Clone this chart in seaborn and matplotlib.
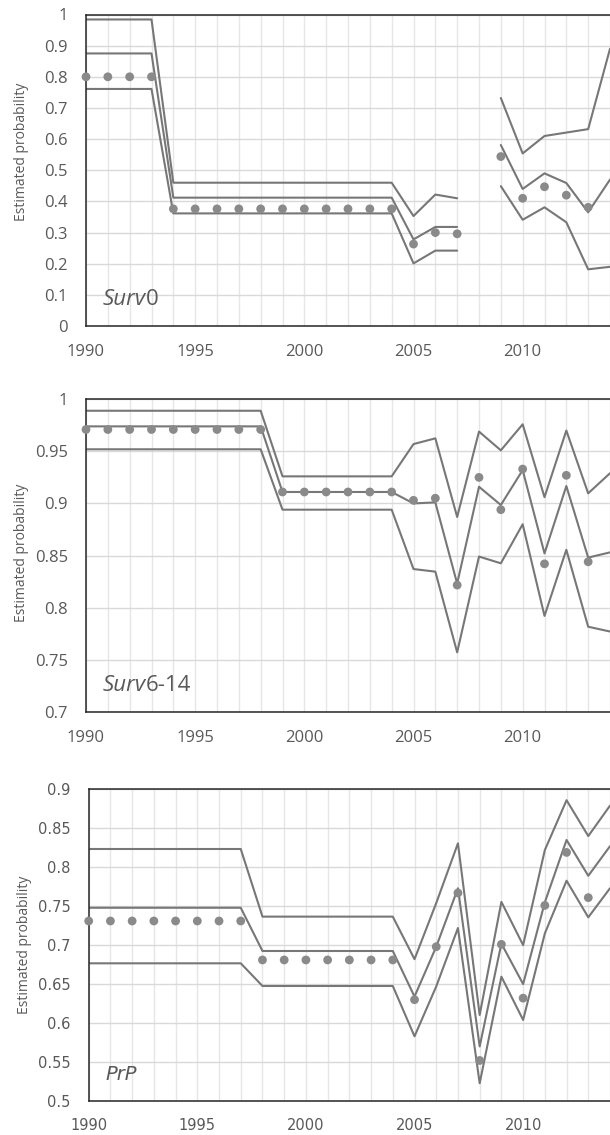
import numpy as np
import pandas as pd
import matplotlib
matplotlib.use("Agg")
import matplotlib.pyplot as plt
import seaborn as sns

nan = np.nan
years = list(range(1990, 2015))

# Surv0: upper bound, model line, lower bound, point estimates (no data in 2008)
surv0_upper = [0.984] * 4 + [0.46] * 11 + [0.353, 0.422, 0.41, nan, 0.732, 0.554, 0.61, 0.621, 0.632, 0.89]
surv0_mid = [0.875] * 4 + [0.412] * 11 + [0.278, 0.318, 0.318, nan, 0.581, 0.44, 0.49, 0.459, 0.365, 0.47]
surv0_lower = [0.761] * 4 + [0.3615] * 11 + [0.201, 0.242, 0.242, nan, 0.449, 0.341, 0.381, 0.333, 0.182, 0.19]
surv0_est = [0.8] * 4 + [0.376] * 11 + [0.263, 0.30, 0.296, nan, 0.544, 0.41, 0.447, 0.42, 0.381, nan]

# Surv6-14
surv614_upper = [0.989] * 9 + [0.926] * 6 + [0.957, 0.9625, 0.887, 0.969, 0.951, 0.976, 0.906, 0.970, 0.9097, 0.929]
surv614_mid = [0.974] * 9 + [0.911] * 6 + [0.900, 0.901, 0.823, 0.916, 0.8985, 0.932, 0.852, 0.9167, 0.848, 0.853]
surv614_lower = [0.952] * 9 + [0.894] * 6 + [0.837, 0.8345, 0.757, 0.849, 0.8425, 0.880, 0.792, 0.8555, 0.7816, 0.777]
surv614_est = [0.971] * 9 + [0.911] * 6 + [0.903, 0.905, 0.8216, 0.925, 0.894, 0.933, 0.842, 0.927, 0.844, nan]

# PrP
prp_upper = [0.8234] * 8 + [0.7366] * 7 + [0.682, 0.754, 0.8307, 0.6104, 0.7555, 0.700, 0.822, 0.886, 0.840, 0.879]
prp_mid = [0.748] * 8 + [0.6925] * 7 + [0.634, 0.698, 0.773, 0.570, 0.702, 0.650, 0.755, 0.835, 0.789, 0.827]
prp_lower = [0.6767] * 8 + [0.6476] * 7 + [0.583, 0.647, 0.722, 0.5227, 0.6595, 0.604, 0.715, 0.7827, 0.7357, 0.773]
prp_est = [0.731] * 8 + [0.681] * 7 + [0.630, 0.698, 0.767, 0.552, 0.701, 0.632, 0.751, 0.819, 0.761, nan]

y_label = "Estimated probability"

LINE_C = "#777777"
DOT_C = "#8a8a8a"
TICK_C = "#595959"

sns.set_style("white")


def band_frame(upper, mid, lower):
    rows = []
    for name, vals in (("upper", upper), ("mid", mid), ("lower", lower)):
        seg = 0
        for yr, v in zip(years, vals):
            if np.isnan(v):
                seg += 1
                continue
            rows.append({"year": yr, "value": v, "trace": f"{name}{seg}"})
    return pd.DataFrame(rows)


def draw_panel(ax, upper, mid, lower, est, ylim, yticks, xmax, font, tsize,
               label_parts, lsize, ylabel_y, xpad, ypad):
    ax.set_xlim(1990, xmax)
    ax.set_ylim(*ylim)
    ax.set_xticks(range(1990, 2015, 5))
    ax.set_xticks(range(1990, 2015), minor=True)
    ax.set_yticks(yticks)
    ax.set_yticklabels([f"{t:g}" for t in yticks], family=font, size=tsize, color=TICK_C)
    ax.set_xticklabels([str(t) for t in range(1990, 2015, 5)], family=font, size=tsize, color=TICK_C)
    ax.tick_params(axis="both", which="both", length=0)
    ax.tick_params(axis="x", pad=xpad)
    ax.tick_params(axis="y", pad=ypad)
    ax.grid(True, axis="y", which="major", color="#d9d9d9", lw=1.0)
    ax.grid(True, axis="x", which="both", color="#e6e6e6", lw=1.0)
    ax.set_axisbelow(True)
    for side in ("left", "bottom", "top"):
        ax.spines[side].set_color("#262626")
        ax.spines[side].set_linewidth(1.1)
    ax.spines["right"].set_visible(False)

    df = band_frame(upper, mid, lower)
    sns.lineplot(data=df, x="year", y="value", units="trace", estimator=None,
                 color=LINE_C, lw=1.5, ax=ax, legend=False, sort=False)
    est_df = pd.DataFrame({"year": years, "value": est}).dropna()
    sns.scatterplot(data=est_df, x="year", y="value", color=DOT_C, s=40,
                    edgecolor="none", ax=ax, zorder=3, clip_on=False)
    ax.set_xlabel("")
    ax.set_ylabel(y_label, family="Open Sans", size=10, color=TICK_C, va="center")
    ax.yaxis.set_label_coords(-0.124, ylabel_y)

    # panel name: italic variable part followed by upright suffix
    first, rest = label_parts
    t = ax.text(0.032, 0.066, first, transform=ax.transAxes, family=font,
                style="italic", size=lsize, color=TICK_C, va="baseline")
    if rest:
        ax.annotate(rest, xy=(1, 0), xycoords=t, family=font, size=lsize,
                    color=TICK_C, va="bottom")


fig = plt.figure(figsize=(6.10, 11.35), dpi=100)
W, H = 610, 1135


def axes_px(left, top, bottom):
    return fig.add_axes([left / W, 1 - bottom / H, 1 - left / W, (bottom - top) / H])


ax1 = axes_px(86, 14.5, 326)
ax2 = axes_px(86, 399.3, 711.7)
ax3 = axes_px(88.7, 789.3, 1101)

draw_panel(ax1, surv0_upper, surv0_mid, surv0_lower, surv0_est, (0, 1),
           [round(0.1 * i, 1) for i in range(11)], 2013.66, "Open Sans", 12,
           ("Surv", "0"), 16, 0.56, 13, 13)
draw_panel(ax2, surv614_upper, surv614_mid, surv614_lower, surv614_est, (0.7, 1),
           [0.7, 0.75, 0.8, 0.85, 0.9, 0.95, 1.0], 2013.66, "Open Sans", 12,
           ("Surv", "6-14"), 16, 0.51, 13, 13)
draw_panel(ax3, prp_upper, prp_mid, prp_lower, prp_est, (0.5, 0.9),
           [0.5, 0.55, 0.6, 0.65, 0.7, 0.75, 0.8, 0.85, 0.9], 2013.59, "DejaVu Sans", 10.5,
           ("PrP", ""), 14, 0.5, 12, 13)

fig.savefig("out.png", dpi=100)
